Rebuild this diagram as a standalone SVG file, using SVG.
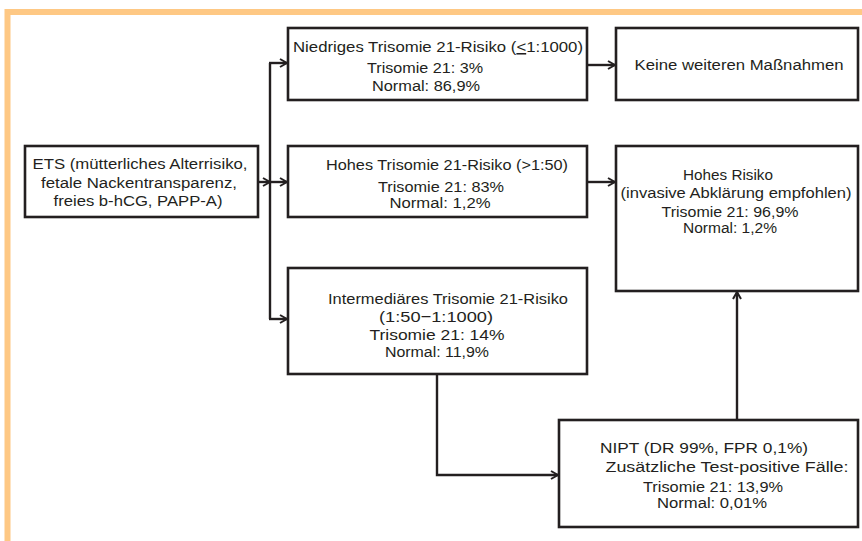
<svg xmlns="http://www.w3.org/2000/svg" width="862" height="541" viewBox="0 0 862 541">
<defs>
<marker id="arr" viewBox="0 0 10 10" refX="9" refY="5" markerWidth="10" markerHeight="10" markerUnits="userSpaceOnUse" orient="auto">
<path d="M2,1 L9,5 L2,9" fill="none" stroke="#231f20" stroke-width="2"/>
</marker>
</defs>
<style>
.box{fill:#fff;stroke:#231f20;stroke-width:2.6}
.t{font-family:"Liberation Sans",Arial,sans-serif;font-size:15.5px;fill:#231f20;text-anchor:middle}
.c{fill:none;stroke:#231f20;stroke-width:2.4}
</style>
<rect width="862" height="541" fill="#fff"/>
<path d="M7.5,541 V12 H862" fill="none" stroke="#fec884" stroke-width="6"/>
<g id="connectors">
<line class="c" x1="258" y1="182" x2="270" y2="182" marker-end="url(#arr)"/>
<line class="c" x1="270" y1="63" x2="270" y2="319"/>
<line class="c" x1="269" y1="63" x2="287" y2="63" marker-end="url(#arr)"/>
<line class="c" x1="269" y1="182" x2="287" y2="182" marker-end="url(#arr)"/>
<line class="c" x1="269" y1="319" x2="287" y2="319" marker-end="url(#arr)"/>
<line class="c" x1="587" y1="65" x2="615" y2="65" marker-end="url(#arr)"/>
<line class="c" x1="587" y1="182" x2="615" y2="182" marker-end="url(#arr)"/>
<polyline class="c" points="437,374 437,475 558,475" marker-end="url(#arr)"/>
<line class="c" x1="737" y1="420" x2="737" y2="292" marker-end="url(#arr)"/>
</g>
<g id="ets">
<rect class="box" x="25" y="146" width="233" height="71"/>
<text class="t" x="140" y="169" textLength="215" lengthAdjust="spacingAndGlyphs">ETS (mütterliches Alterrisiko,</text>
<text class="t" x="139" y="188" textLength="196" lengthAdjust="spacingAndGlyphs">fetale Nackentransparenz,</text>
<text class="t" x="138" y="206" textLength="169" lengthAdjust="spacingAndGlyphs">freies b-hCG, PAPP-A)</text>
</g>
<g id="niedrig">
<rect class="box" x="288" y="28" width="299" height="72"/>
<text class="t" x="438" y="52" textLength="290" lengthAdjust="spacingAndGlyphs">Niedriges Trisomie 21-Risiko (<tspan text-decoration="underline">&lt;</tspan>1:1000)</text>
<text class="t" x="425" y="73" textLength="116" lengthAdjust="spacingAndGlyphs">Trisomie 21: 3%</text>
<text class="t" x="426" y="91" textLength="108" lengthAdjust="spacingAndGlyphs">Normal: 86,9%</text>
</g>
<g id="keine">
<rect class="box" x="616" y="28" width="242" height="72"/>
<text class="t" x="739" y="70" textLength="209" lengthAdjust="spacingAndGlyphs">Keine weiteren Maßnahmen</text>
</g>
<g id="hoch">
<rect class="box" x="288" y="146" width="299" height="71"/>
<text class="t" x="447" y="170" textLength="242" lengthAdjust="spacingAndGlyphs">Hohes Trisomie 21-Risiko (&gt;1:50)</text>
<text class="t" x="441" y="192" textLength="126" lengthAdjust="spacingAndGlyphs">Trisomie 21: 83%</text>
<text class="t" x="440" y="208" textLength="101" lengthAdjust="spacingAndGlyphs">Normal: 1,2%</text>
</g>
<g id="hohesrisiko">
<rect class="box" x="616" y="146" width="242" height="145"/>
<text class="t" x="728" y="180" textLength="90" lengthAdjust="spacingAndGlyphs">Hohes Risiko</text>
<text class="t" x="736" y="198" textLength="231" lengthAdjust="spacingAndGlyphs">(invasive Abklärung empfohlen)</text>
<text class="t" x="730" y="217" textLength="137" lengthAdjust="spacingAndGlyphs">Trisomie 21: 96,9%</text>
<text class="t" x="730" y="233" textLength="94" lengthAdjust="spacingAndGlyphs">Normal: 1,2%</text>
</g>
<g id="intermediaer">
<rect class="box" x="288" y="268" width="299" height="106"/>
<text class="t" x="448" y="304" textLength="240" lengthAdjust="spacingAndGlyphs">Intermediäres Trisomie 21-Risiko</text>
<text class="t" x="436" y="322" textLength="114" lengthAdjust="spacingAndGlyphs">(1:50−1:1000)</text>
<text class="t" x="437" y="340" textLength="135" lengthAdjust="spacingAndGlyphs">Trisomie 21: 14%</text>
<text class="t" x="437" y="357" textLength="104" lengthAdjust="spacingAndGlyphs">Normal: 11,9%</text>
</g>
<g id="nipt">
<rect class="box" x="559" y="420" width="299" height="107"/>
<text class="t" x="704" y="453" textLength="208" lengthAdjust="spacingAndGlyphs">NIPT (DR 99%, FPR 0,1%)</text>
<text class="t" x="727" y="472" textLength="243" lengthAdjust="spacingAndGlyphs">Zusätzliche Test-positive Fälle:</text>
<text class="t" x="713" y="492" textLength="140" lengthAdjust="spacingAndGlyphs">Trisomie 21: 13,9%</text>
<text class="t" x="712" y="508" textLength="110" lengthAdjust="spacingAndGlyphs">Normal: 0,01%</text>
</g>
</svg>
